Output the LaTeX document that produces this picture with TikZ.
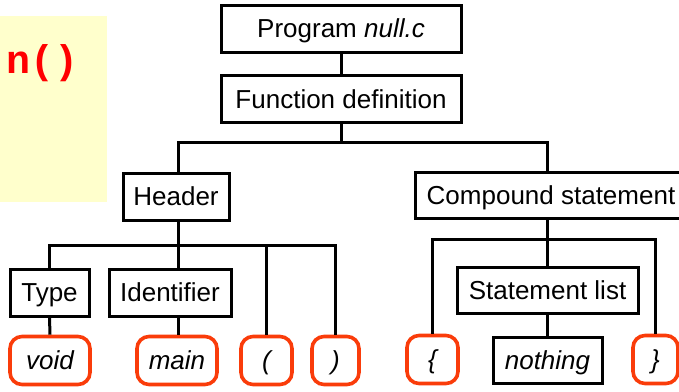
\documentclass[tikz,border=0pt]{standalone}
\usepackage{fontspec}
\setmainfont{Liberation Sans}
\newfontfamily\codefont{Liberation Mono}
\definecolor{notepad}{RGB}{255,255,204}
\definecolor{tokenred}{RGB}{250,60,10}
\definecolor{codered}{RGB}{255,0,0}
\begin{document}
\begin{tikzpicture}[x=1pt,y=-1pt,
  every node/.style={font=\fontsize{26}{30}\selectfont, text height=18.6pt, text depth=0pt, inner sep=0pt},
  rule/.style={draw=black, line width=3pt, fill=white, minimum height=47pt},
  token/.style={draw=tokenred, line width=3.6pt, rounded corners=12pt, fill=white, minimum height=48pt, font=\fontsize{26}{30}\selectfont\itshape},
  leaf/.style={rule, font=\fontsize{26}{30}\selectfont\itshape},
  link/.style={draw=black, line width=3pt}]
\useasboundingbox (0,0) rectangle (679,391);
\clip (0,0) rectangle (679,391);

% code snippet fragment on its note
\fill[notepad] (-2,16) rectangle (107,202);
\node[anchor=base west, text=codered, font=] (code) at (6,73) {\codefont\bfseries\fontsize{40}{44}\selectfont n()};

% tree nodes
\node[rule, minimum width=240pt] (prog) at (341,28.5) {Program \textit{null.c}};
\node[rule, minimum width=240pt] (fdef) at (341,99) {Function definition};
\node[rule, minimum width=106pt] (header) at (176,196.5) {Header};
\node[rule, minimum width=272pt, minimum height=46pt] (comp) at (551,195) {Compound statement};
\node[rule, minimum width=79pt] (type) at (49.5,292.5) {Type};
\node[rule, minimum width=122pt] (ident) at (170,292.5) {Identifier};
\node[rule, minimum width=181pt, minimum height=46pt] (stl) at (547.5,290) {Statement list};

\node[token, minimum width=80pt] (void) at (50,360.5) {void};
\node[token, minimum width=80pt] (main) at (177,360.5) {main};
\node[token, minimum width=51pt] (lp) at (266.5,360.5) {(};
\node[token, minimum width=47pt] (rp) at (335.5,360.5) {)};
\node[token, minimum width=51pt] (lb) at (432.5,359.5) {\{};
\node[leaf, minimum width=109pt, minimum height=46pt] (noth) at (547.5,360) {nothing};
\node[token, minimum width=45pt] (rb) at (655.5,359.5) {\}};

% branching points
\coordinate (bar1) at (341,142);
\coordinate (bar2) at (178,245);
\coordinate (bar3) at (547.5,239);

% connectors
\draw[link] (prog.south) -- (fdef.north);
\draw[link] (fdef.south) -- (fdef.south |- bar1);
\draw[link] (header.north -| bar2) |- (bar1) -| (comp.north -| bar3);
\draw[link] (header.south -| bar2) -- (ident.north -| bar2);
\draw[link] (type.north) |- (bar2) -| (rp.north);
\draw[link] (lp.north) -- (lp.north |- bar2);
\draw[link] (type.south) -- (void.north);
\draw[link] (ident.south -| bar2) -- (main.north -| bar2);
\draw[link] (comp.south -| stl.north) -- (stl.north);
\draw[link] (lb.north) |- (bar3) -| (rb.north);
\draw[link] (stl.south) -- (noth.north);
\end{tikzpicture}
\end{document}
